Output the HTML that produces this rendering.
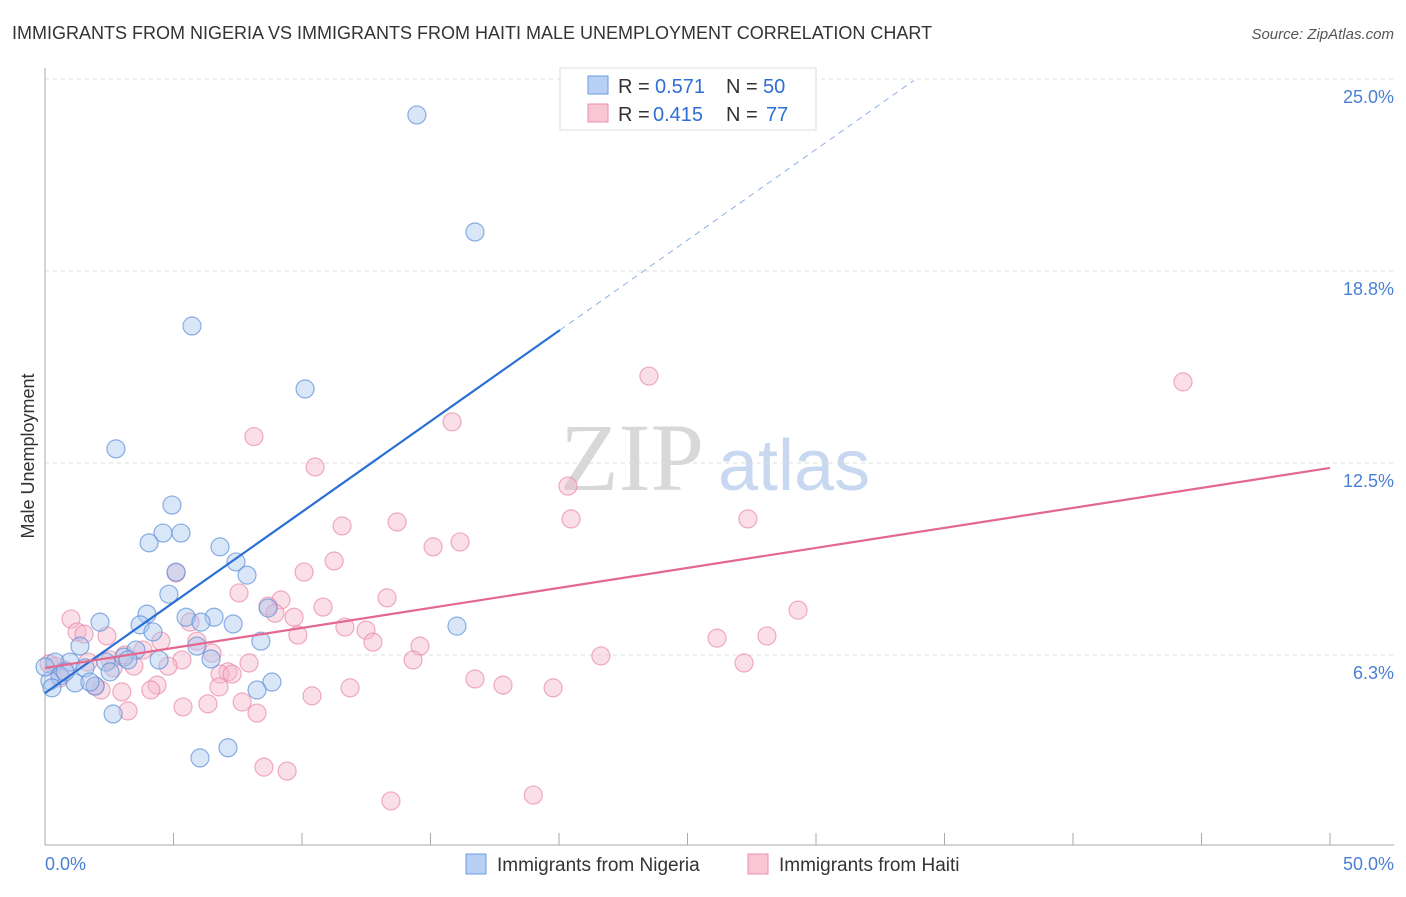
<!DOCTYPE html>
<html><head><meta charset="utf-8"><style>
body{margin:0;background:#fff;font-family:"Liberation Sans",sans-serif;}
svg text{font-family:"Liberation Sans",sans-serif;}
</style></head><body>
<svg id="c" width="1406" height="892">
<text x="12" y="39" font-size="18" fill="#333">IMMIGRANTS FROM NIGERIA VS IMMIGRANTS FROM HAITI MALE UNEMPLOYMENT CORRELATION CHART</text>
<text x="1394" y="39" font-size="15" fill="#555" font-style="italic" text-anchor="end">Source: ZipAtlas.com</text>
<text x="560" y="490" font-size="96" fill="#d8d8d8" style="font-family:'Liberation Serif',serif">ZIP</text>
<text x="718" y="490" font-size="72" fill="#c8d8f0">atlas</text>
<g id="grid"></g>
<g id="pts"></g>
<g id="lines"></g>
<text transform="translate(34,456) rotate(-90)" font-size="18" fill="#333" text-anchor="middle">Male Unemployment</text>
<text x="45" y="870" font-size="18" fill="#4a7fd4">0.0%</text>
<text x="1394" y="870" font-size="18" fill="#4a7fd4" text-anchor="end">50.0%</text>
<g>
<rect x="560" y="68" width="256" height="62" fill="#fff" stroke="#ddd"/>
<rect x="588" y="76" width="20" height="18" fill="#b8d0f4" stroke="#6b9be0"/>
<rect x="588" y="104" width="20" height="18" fill="#f9c6d6" stroke="#ec8fae"/>
<text x="618" y="93" font-size="20" fill="#333">R =</text>
<text x="655" y="93" font-size="20" fill="#2d6fd6">0.571</text>
<text x="726" y="93" font-size="20" fill="#333">N =</text>
<text x="763" y="93" font-size="20" fill="#2d6fd6">50</text>
<text x="618" y="121" font-size="20" fill="#333">R =</text>
<text x="653" y="121" font-size="20" fill="#2d6fd6">0.415</text>
<text x="726" y="121" font-size="20" fill="#333">N =</text>
<text x="766" y="121" font-size="20" fill="#2d6fd6">77</text>
</g>
<g>
<rect x="466" y="854" width="20" height="20" fill="#b8d0f4" stroke="#6b9be0"/>
<text x="497" y="871" font-size="19" fill="#333">Immigrants from Nigeria</text>
<rect x="748" y="854" width="20" height="20" fill="#f9c6d6" stroke="#ec8fae"/>
<text x="779" y="871" font-size="19" fill="#333">Immigrants from Haiti</text>
</g>
</svg>
<script>
const yTicks=[25,18.75,12.5,6.25];
const yTickLabels=["25.0%","18.8%","12.5%","6.3%"];
const nigeriaX=[14.47,16.73,5.72,10.12,2.76,4.94,4.59,5.29,4.05,6.81,7.43,5.10,7.86,4.82,3.97,5.49,6.58,2.14,6.07,7.32,3.70,8.68,4.20,16.03,8.40,1.36,5.91,3.54,3.07,3.23,6.46,4.44,2.37,0.97,0.39,1.56,0.58,0.19,1.17,1.95,8.83,8.25,2.65,7.12,6.03,0.27,0.78,1.75,2.53,0];
const nigeriaY=[23.83,20.02,16.96,14.91,12.96,11.13,10.22,10.22,9.90,9.77,9.28,8.95,8.85,8.23,7.58,7.48,7.48,7.32,7.32,7.26,7.23,7.78,7.00,7.19,6.70,6.54,6.54,6.41,6.18,6.09,6.12,6.09,6.02,6.02,6.02,5.83,5.57,5.41,5.34,5.24,5.37,5.11,4.33,3.23,2.90,5.18,5.70,5.37,5.70,5.86];
const haitiX=[23.5,44.28,8.13,15.84,10.51,20.35,13.70,20.47,27.35,11.56,16.15,15.10,11.25,5.10,10.08,7.55,13.31,9.18,8.68,10.82,29.30,1.01,8.95,9.69,5.64,11.67,12.49,1.25,1.52,2.41,9.84,26.15,28.09,4.51,12.76,5.91,14.59,6.50,21.63,14.32,27.20,7.94,5.33,3.46,2.65,4.79,7.12,6.81,16.73,17.82,11.87,19.77,6.77,4.36,2.99,2.18,4.12,10.39,7.67,5.37,6.34,3.23,8.25,8.52,9.42,13.46,19.00,0.39,0.78,1.67,0.58,0.16,1.95,3.81,3.11,7.28,2.53];
const haitiY=[15.33,15.14,13.36,13.84,12.37,11.75,10.58,10.68,10.68,10.45,9.93,9.77,9.31,8.92,8.95,8.27,8.11,8.04,7.84,7.81,7.71,7.42,7.61,7.48,7.32,7.16,7.06,7.00,6.93,6.87,6.90,6.80,6.87,6.70,6.67,6.70,6.54,6.31,6.22,6.09,5.99,5.99,6.09,5.89,5.83,5.89,5.70,5.63,5.47,5.27,5.18,5.18,5.21,5.27,5.05,5.11,5.11,4.92,4.72,4.56,4.66,4.43,4.36,2.60,2.47,1.50,1.69,5.89,5.76,6.02,5.50,5.96,5.24,6.41,6.25,5.63,6.09];
const nigeriaFit=[0,5.01,20.04,16.83,33.8,24.95];
const haitiFit=[0,5.83,50,12.34];
const X=v=>45+v*25.7, Y=v=>79+(25-v)*30.72;
const NS='http://www.w3.org/2000/svg';
function mk(t,a,p){const e=document.createElementNS(NS,t);for(const k in a)e.setAttribute(k,a[k]);p.appendChild(e);return e;}
const g=document.getElementById('grid');
yTicks.forEach((t,i)=>{
 const l=mk('line',{x1:45,x2:1394,y1:Y(t),y2:Y(t),stroke:'#ddd','stroke-dasharray':'4,4'},g);
 
 
 const tx=mk('text',{x:1394,y:Y(t)+24,'font-size':18,fill:'#4a7fd4','text-anchor':'end'},g);
 tx.textContent=yTickLabels[i];
 
 
});
const ax=mk('line',{x1:45,x2:45,y1:68,y2:845,stroke:'#aaa'},g);


const bx=mk('line',{x1:45,x2:1394,y1:845,y2:845,stroke:'#aaa'},g);


for(let v=5;v<=50;v+=5){const t=mk('line',{x1:X(v),x2:X(v),y1:833,y2:845,stroke:'#aaa'},g);
 
 }
const P=document.getElementById('pts');
function pts(xs,ys,fill,stroke,name){xs.forEach((x,i)=>{const c=mk('circle',{cx:X(x),cy:Y(ys[i]),r:9,fill:fill,'fill-opacity':0.45,stroke:stroke,'stroke-opacity':0.7,'stroke-width':1.2},P);
 
 });}
pts(haitiX,haitiY,'#f7b8cb','#e889a8','haiti-point');
pts(nigeriaX,nigeriaY,'#a9c8f0','#5b8fd8','nigeria-point');
const L=document.getElementById('lines');
const b1=mk('line',{x1:X(nigeriaFit[0]),y1:Y(nigeriaFit[1]),x2:X(nigeriaFit[2]),y2:Y(nigeriaFit[3]),stroke:'#2a6fd6','stroke-width':2.2},L);


const b2=mk('line',{x1:X(nigeriaFit[2]),y1:Y(nigeriaFit[3]),x2:X(nigeriaFit[4]),y2:Y(nigeriaFit[5]),stroke:'#8fb0e6','stroke-width':1,'stroke-dasharray':'6,5'},L);


const h=mk('line',{x1:X(haitiFit[0]),y1:Y(haitiFit[1]),x2:X(haitiFit[2]),y2:Y(haitiFit[3]),stroke:'#e4678f','stroke-width':2.2},L);


</script>
</body></html>
